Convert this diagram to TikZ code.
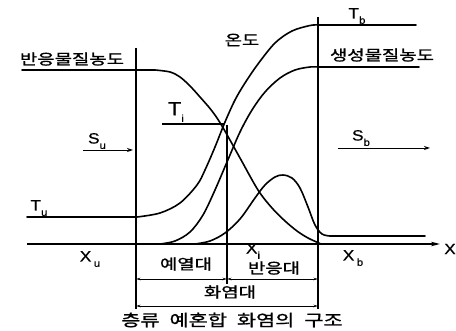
\documentclass[tikz,border=0pt]{standalone}
\usepackage{fontspec}
\setmainfont{Liberation Sans}
\newfontfamily\krf[FakeStretch=1.3,FakeBold=1.2]{Noto Sans CJK KR}
\newfontfamily\latf[FakeStretch=1.15,FakeBold=0.6]{Liberation Sans}
\usetikzlibrary{arrows.meta}
\newcommand\lsub[1]{\raisebox{-0.35em}{\fontsize{10}{10}\selectfont #1}}
\begin{document}
\begin{tikzpicture}[x=1pt,y=-1pt,
  curve/.style={line width=1.6pt, line join=round, line cap=round},
  vline/.style={line width=1.9pt},
  krlab/.style={font=\krf\fontsize{14.5}{14.5}\selectfont, inner sep=0pt},
  latlab/.style={font=\latf\fontsize{15}{15}\selectfont, inner sep=0pt},
  flow/.style={line width=0.9pt, -{Stealth[length=6pt,width=4pt]}},
  dim/.style={line width=0.8pt, {Stealth[length=4.5pt,width=2.5pt]}-{Stealth[length=4.5pt,width=2.5pt]}}
]
\useasboundingbox (0,0) rectangle (456,331);
% vertical lines
\draw[vline] (136,48) coordinate (lt) -- (136,309) coordinate (lb);
\draw[vline] (318,17) coordinate (rt) -- (318,309) coordinate (rb);
\draw[line width=1.5pt] (227,125) coordinate (mt) -- (227,284) coordinate (mb);
% axis
\coordinate (ax0) at (27,244);
\coordinate (ax1) at (440,244);
\draw[line width=1.7pt, -{Stealth[length=9pt,width=4.5pt]}] (ax0) -- (ax1);
\node[latlab] (X) at (450,249) {X};
% reactant
\draw[curve] (22,70) -- (155,70)
  plot[smooth,tension=0.55] coordinates {(155,70) (170,72) (180,77) (190,86) (200,97) (212,111) (222,126) (240,158) (258,190) (272,208) (285,221) (297,231) (308,238) (320,243.5)};
% temperature
\draw[curve] (27,217) -- (137,217)
  plot[smooth,tension=0.55] coordinates {(137,217) (160,213) (180,203) (197,185) (205,170) (215,147) (225,122) (235,100) (245,83) (258,64) (275,43) (292,31) (310,25.5) (318,25)}
  -- (416,25);
% product
\draw[curve] plot[smooth,tension=0.55] coordinates {(160,244) (175,241) (190,232) (203,215) (215,190) (227,162) (240,132) (252,110) (265,92) (280,78) (295,70) (310,67) (318,67)} -- (419,67);
% reaction rate
\draw[curve] plot[smooth,tension=0.55] coordinates {(195,244) (210,241) (225,233) (240,219) (255,198) (265,185) (275,177) (283,175) (292,178) (300,188) (308,207) (315,225) (322,234) (330,236)} -- (425,236);
% Ti line
\draw[line width=1.5pt] (162,124) coordinate (ti0) -- (224,124) coordinate (ti1);
% flow arrows
\draw[flow] (83,150) coordinate (su0) -- (133,150) coordinate (su1);
\draw[flow] (338,148) coordinate (sb0) -- (430,148) coordinate (sb1);
% dimension arrows
\draw[dim] (136,279) -- (227,279);
\draw[dim] (227,279) -- (318,279);
\draw[dim] (136,306) -- (318,306);
% labels
\node[krlab] (reac) at (72,59) {반응물질농도};
\node[krlab] (temp) at (242,40) {온도};
\node[krlab] (prod) at (382,55) {생성물질농도};
\node[krlab] (pre) at (186,264) {예열대};
\node[krlab] (rz) at (274,268) {반응대};
\node[krlab] (fz) at (230,292) {화염대};
\node[font=\krf\fontsize{16}{16}\selectfont, inner sep=0pt] (cap) at (232,320) {층류\hspace{10pt}예혼합\hspace{10pt}화염의\hspace{10pt}구조};
\node[latlab, font=\latf\fontsize{19}{19}\selectfont] (Ti) at (176,112) {T\lsub{i}};
\node[latlab] (Tu) at (39,208) {T\lsub{u}};
\node[latlab] (Tb) at (357,16) {T\lsub{b}};
\node[latlab] (Su) at (97,141) {S\lsub{u}};
\node[latlab] (Sb) at (361,138) {S\lsub{b}};
\node[latlab] (Xu) at (90,259) {X\,\lsub{u}};
\node[latlab] (Xb) at (353,258) {X\,\lsub{b}};
\node[latlab] (Xi) at (253,251) {X\lsub{i}};
\end{tikzpicture}
\end{document}
